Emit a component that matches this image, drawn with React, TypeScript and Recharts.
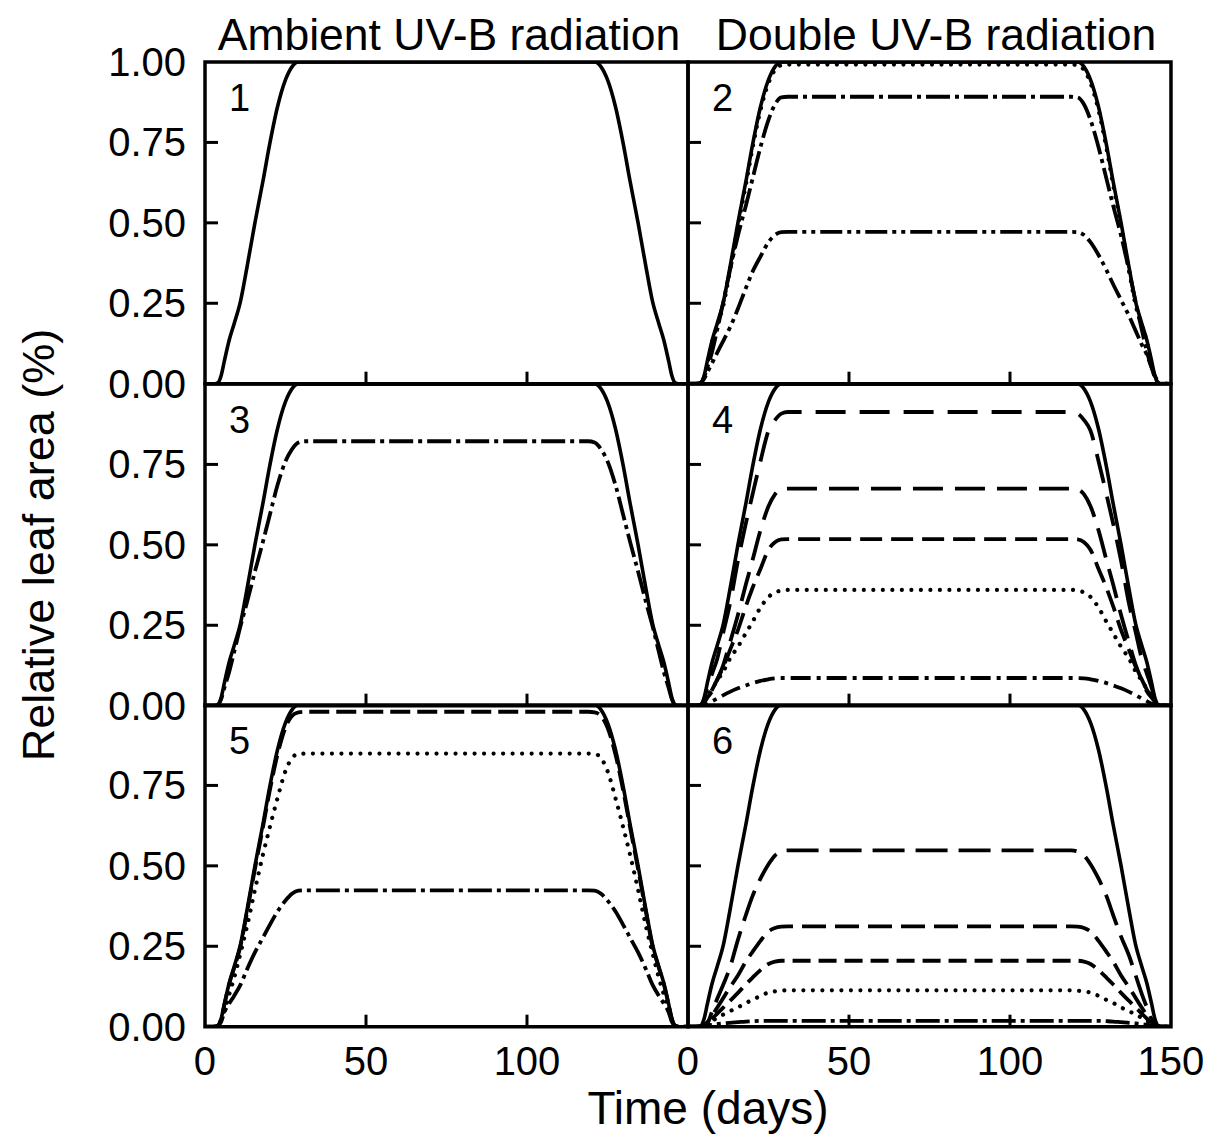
import React from 'react';
import { LineChart, Line, XAxis, YAxis, ReferenceArea } from 'recharts';

const FONT = '"Liberation Sans", Arial, Helvetica, sans-serif';

// ---- data (time in days, relative leaf area) ----
const days = [0, 3, 4, 5, 6, 7.5, 9, 11, 13, 15.5, 18, 20, 22.5, 25, 27, 29, 31, 75, 119, 121, 123, 125, 127.5, 130, 132, 134.5, 137, 139, 141, 142.5, 144, 145, 146, 147, 150];

const solid = [0, 0, 0.003, 0.025, 0.07, 0.135, 0.185, 0.255, 0.36, 0.5, 0.63, 0.74, 0.86, 0.945, 0.985, 1, 1, 1, 1, 1, 0.985, 0.945, 0.86, 0.74, 0.63, 0.5, 0.36, 0.255, 0.185, 0.135, 0.07, 0.025, 0.003, 0, 0];

const p2Dotted = [0, 0, 0.002, 0.02, 0.062, 0.13, 0.18, 0.245, 0.35, 0.49, 0.62, 0.73, 0.85, 0.935, 0.975, 0.99, 0.992, 0.992, 0.992, 0.99, 0.975, 0.935, 0.85, 0.73, 0.62, 0.49, 0.35, 0.245, 0.18, 0.13, 0.062, 0.02, 0.002, 0, 0];
const p2DashDot = [0, 0, 0.003, 0.02, 0.05, 0.1, 0.165, 0.255, 0.351, 0.46, 0.555, 0.635, 0.735, 0.82, 0.868, 0.89, 0.892, 0.892, 0.892, 0.89, 0.868, 0.82, 0.735, 0.635, 0.555, 0.46, 0.351, 0.255, 0.165, 0.1, 0.05, 0.02, 0.003, 0, 0];
const p2DashDotDot = [0, 0, 0.003, 0.015, 0.035, 0.065, 0.095, 0.134, 0.174, 0.233, 0.298, 0.347, 0.395, 0.44, 0.462, 0.471, 0.472, 0.472, 0.472, 0.471, 0.462, 0.44, 0.4, 0.352, 0.31, 0.26, 0.21, 0.165, 0.12, 0.09, 0.05, 0.025, 0.005, 0, 0];

const p3DashDot = [0, 0, 0.003, 0.02, 0.055, 0.105, 0.165, 0.247, 0.32, 0.417, 0.51, 0.588, 0.685, 0.76, 0.797, 0.818, 0.822, 0.822, 0.822, 0.818, 0.797, 0.76, 0.685, 0.588, 0.51, 0.417, 0.32, 0.247, 0.165, 0.105, 0.055, 0.02, 0.003, 0, 0];

const p4LongDash = [0, 0, 0.003, 0.02, 0.055, 0.1, 0.143, 0.23, 0.315, 0.45, 0.568, 0.655, 0.76, 0.855, 0.888, 0.908, 0.913, 0.913, 0.913, 0.908, 0.888, 0.855, 0.76, 0.655, 0.568, 0.45, 0.315, 0.23, 0.143, 0.1, 0.055, 0.02, 0.003, 0, 0];
const p4Dash = [0, 0, 0.002, 0.012, 0.025, 0.045, 0.078, 0.128, 0.195, 0.282, 0.378, 0.451, 0.545, 0.62, 0.657, 0.673, 0.675, 0.675, 0.675, 0.673, 0.657, 0.62, 0.545, 0.451, 0.378, 0.282, 0.195, 0.128, 0.078, 0.045, 0.025, 0.012, 0.002, 0, 0];
const p4MedDash = [0, 0, 0.002, 0.01, 0.025, 0.05, 0.08, 0.122, 0.172, 0.235, 0.31, 0.365, 0.425, 0.485, 0.508, 0.517, 0.518, 0.518, 0.518, 0.517, 0.508, 0.485, 0.425, 0.365, 0.31, 0.235, 0.172, 0.122, 0.08, 0.05, 0.025, 0.01, 0.002, 0, 0];
const p4Dotted = [0, 0, 0.002, 0.015, 0.03, 0.052, 0.077, 0.107, 0.146, 0.183, 0.226, 0.26, 0.305, 0.338, 0.352, 0.358, 0.36, 0.36, 0.36, 0.358, 0.352, 0.338, 0.305, 0.26, 0.226, 0.183, 0.146, 0.107, 0.077, 0.052, 0.03, 0.015, 0.002, 0, 0];
const p4DashDot = [0, 0, 0.001, 0.003, 0.006, 0.014, 0.022, 0.033, 0.043, 0.054, 0.063, 0.07, 0.077, 0.082, 0.085, 0.086, 0.086, 0.086, 0.086, 0.086, 0.085, 0.082, 0.077, 0.07, 0.063, 0.054, 0.043, 0.033, 0.022, 0.014, 0.006, 0.003, 0.001, 0, 0];

const p5Dash = [0, 0, 0.003, 0.024, 0.068, 0.132, 0.181, 0.25, 0.353, 0.49, 0.62, 0.728, 0.845, 0.93, 0.966, 0.977, 0.979, 0.979, 0.979, 0.977, 0.966, 0.93, 0.845, 0.728, 0.62, 0.49, 0.353, 0.25, 0.181, 0.132, 0.068, 0.024, 0.003, 0, 0];
const p5Dotted = [0, 0, 0.003, 0.02, 0.05, 0.1, 0.15, 0.228, 0.31, 0.425, 0.535, 0.615, 0.71, 0.795, 0.835, 0.848, 0.849, 0.849, 0.849, 0.848, 0.835, 0.795, 0.71, 0.615, 0.535, 0.425, 0.31, 0.228, 0.15, 0.1, 0.05, 0.02, 0.003, 0, 0];
const p5DashDot = [0, 0, 0.003, 0.015, 0.045, 0.072, 0.095, 0.13, 0.177, 0.231, 0.277, 0.314, 0.358, 0.392, 0.413, 0.423, 0.424, 0.424, 0.424, 0.423, 0.413, 0.392, 0.358, 0.314, 0.277, 0.231, 0.177, 0.13, 0.095, 0.072, 0.045, 0.015, 0.003, 0, 0];

const p6LongDash = [0, 0, 0.001, 0.003, 0.01, 0.048, 0.085, 0.132, 0.183, 0.27, 0.348, 0.405, 0.46, 0.505, 0.532, 0.545, 0.548, 0.548, 0.548, 0.545, 0.532, 0.505, 0.46, 0.405, 0.348, 0.28, 0.22, 0.16, 0.1, 0.06, 0.022, 0.005, 0.001, 0, 0];
const p6Dash = [0, 0, 0.001, 0.004, 0.014, 0.035, 0.058, 0.09, 0.122, 0.159, 0.203, 0.232, 0.267, 0.296, 0.307, 0.311, 0.312, 0.312, 0.312, 0.311, 0.307, 0.296, 0.267, 0.232, 0.203, 0.159, 0.122, 0.09, 0.058, 0.035, 0.014, 0.004, 0.001, 0, 0];
const p6ShortDash = [0, 0, 0.001, 0.004, 0.01, 0.025, 0.04, 0.06, 0.08, 0.105, 0.132, 0.152, 0.176, 0.195, 0.202, 0.205, 0.205, 0.205, 0.205, 0.205, 0.202, 0.195, 0.176, 0.152, 0.132, 0.105, 0.08, 0.06, 0.04, 0.025, 0.01, 0.004, 0.001, 0, 0];
const p6Dotted = [0, 0, 0.001, 0.004, 0.009, 0.018, 0.027, 0.038, 0.048, 0.06, 0.074, 0.083, 0.096, 0.106, 0.11, 0.112, 0.113, 0.113, 0.113, 0.112, 0.11, 0.106, 0.096, 0.083, 0.074, 0.06, 0.048, 0.038, 0.027, 0.018, 0.009, 0.004, 0.001, 0, 0];
const p6DashDot = [0, 0, 0.001, 0.002, 0.004, 0.006, 0.008, 0.01, 0.012, 0.014, 0.016, 0.017, 0.018, 0.018, 0.018, 0.018, 0.018, 0.018, 0.018, 0.018, 0.018, 0.018, 0.018, 0.017, 0.016, 0.014, 0.012, 0.01, 0.008, 0.006, 0.004, 0.002, 0.001, 0, 0];

const xTicks = [0, 50, 100, 150];
const yTicksTop = [0, 0.25, 0.5, 0.75, 1];
const yTicksLower = [0, 0.25, 0.5, 0.75];
const columnTitles = ['Ambient UV-B radiation', 'Double UV-B radiation'];
const xTitle = 'Time (days)';
const yTitle = 'Relative leaf area (%)';

// ---- styles ----
type Style = { dash?: string; width: number; cap: 'round' | 'butt' };
const SOLID: Style = { width: 3.6, cap: 'butt' };
const DOTTED: Style = { dash: '0.01 9.5', width: 4.2, cap: 'round' };
const DASHDOT: Style = { dash: '24 5 4 5', width: 3.8, cap: 'butt' };
const DASHDOTDOT: Style = { dash: '22 5 4 5 4 5', width: 3.8, cap: 'butt' };
const LONGDASH: Style = { dash: '32 11', width: 3.8, cap: 'butt' };
const MEDDASH: Style = { dash: '24 9', width: 3.8, cap: 'butt' };
const SHORTDASH: Style = { dash: '18 8', width: 3.8, cap: 'butt' };
const DASH5: Style = { dash: '20 7', width: 3.8, cap: 'butt' };

type Series = { key: string; values: number[]; style: Style };
type PanelDef = { r: number; c: number; num: string; series: Series[] };

const panels: PanelDef[] = [
  { r: 0, c: 0, num: '1', series: [{ key: 'solid', values: solid, style: SOLID }] },
  {
    r: 0, c: 1, num: '2', series: [
      { key: 'a', values: p2Dotted, style: DOTTED },
      { key: 'b', values: p2DashDot, style: DASHDOT },
      { key: 'c', values: p2DashDotDot, style: DASHDOTDOT },
      { key: 'solid', values: solid, style: SOLID },
    ],
  },
  {
    r: 1, c: 0, num: '3', series: [
      { key: 'a', values: p3DashDot, style: DASHDOT },
      { key: 'solid', values: solid, style: SOLID },
    ],
  },
  {
    r: 1, c: 1, num: '4', series: [
      { key: 'a', values: p4LongDash, style: { dash: '30 14', width: 3.8, cap: 'butt' } },
      { key: 'b', values: p4Dash, style: { dash: '30 12', width: 3.8, cap: 'butt' } },
      { key: 'c', values: p4MedDash, style: { dash: '22 9', width: 3.8, cap: 'butt' } },
      { key: 'd', values: p4Dotted, style: DOTTED },
      { key: 'e', values: p4DashDot, style: { dash: '20 6 4 6', width: 3.8, cap: 'butt' } },
      { key: 'solid', values: solid, style: SOLID },
    ],
  },
  {
    r: 2, c: 0, num: '5', series: [
      { key: 'a', values: p5Dash, style: DASH5 },
      { key: 'b', values: p5Dotted, style: DOTTED },
      { key: 'c', values: p5DashDot, style: DASHDOT },
      { key: 'solid', values: solid, style: SOLID },
    ],
  },
  {
    r: 2, c: 1, num: '6', series: [
      { key: 'a', values: p6LongDash, style: LONGDASH },
      { key: 'b', values: p6Dash, style: MEDDASH },
      { key: 'c', values: p6ShortDash, style: SHORTDASH },
      { key: 'd', values: p6Dotted, style: DOTTED },
      { key: 'e', values: p6DashDot, style: DASHDOT },
      { key: 'solid', values: solid, style: SOLID },
    ],
  },
];

// ---- layout ----
const PANEL_LEFT = [205, 688];
const PANEL_TOP = [62, 383.7, 705.3];
const PW = 483;
const PH = 321.7;
const M = { top: 34, right: 34, bottom: 20, left: 20 };
const X_AXIS_H = 60;
const Y_AXIS_W = 110;

function Panel({ def }: { def: PanelDef }) {
  const { r, c, series } = def;
  const data = days.map((d, i) => {
    const row: Record<string, number> = { day: d };
    series.forEach((s) => { row[s.key] = s.values[i]; });
    return row;
  });
  const yTicks = r === 0 ? yTicksTop : yTicksLower;
  const showX = r === 2;
  const showY = c === 0;

  const renderXTick = (p: any) => {
    const { x, y, payload } = p;
    const v = payload.value;
    const inner = v !== 0 && v !== 150;
    const label = showX && (c === 1 || v !== 150);
    return (
      <g>
        {inner && <line x1={x} x2={x} y1={y} y2={y - 12} stroke="#000" strokeWidth={3} />}
        {label && (
          <text x={x} y={y + 48} textAnchor="middle" fontSize={40} fontFamily={FONT} fill="#000">
            {v}
          </text>
        )}
      </g>
    );
  };

  const renderYTick = (p: any) => {
    const { x, y, payload } = p;
    const v = payload.value;
    const inner = v !== 0 && v !== 1;
    return (
      <g>
        {inner && <line x1={x} x2={x + 13} y1={y} y2={y} stroke="#000" strokeWidth={3} />}
        {showY && (
          <text x={x - 19} y={y} dy={14} textAnchor="end" fontSize={40} fontFamily={FONT} fill="#000">
            {v.toFixed(2)}
          </text>
        )}
      </g>
    );
  };

  return (
    <div
      style={{
        position: 'absolute',
        left: PANEL_LEFT[c] - M.left - Y_AXIS_W,
        top: PANEL_TOP[r] - M.top,
      }}
    >
      <LineChart
        width={PW + M.left + M.right + Y_AXIS_W}
        height={PH + M.top + M.bottom + X_AXIS_H}
        data={data}
        margin={M}
      >
        <XAxis
          dataKey="day"
          type="number"
          domain={[0, 150]}
          ticks={xTicks}
          interval={0}
          height={X_AXIS_H}
          tickSize={0}
          tickMargin={0}
          axisLine={false}
          tickLine={false}
          tick={renderXTick}
          allowDataOverflow
        />
        <YAxis
          type="number"
          domain={[0, 1]}
          ticks={yTicks}
          interval={0}
          width={Y_AXIS_W}
          tickSize={0}
          tickMargin={0}
          axisLine={false}
          tickLine={false}
          tick={renderYTick}
          allowDataOverflow
        />
        {series.map((s) => (
          <Line
            key={s.key}
            dataKey={s.key}
            type="monotone"
            stroke="#000"
            strokeWidth={s.style.width}
            strokeDasharray={s.style.dash}
            strokeLinecap={s.style.cap}
            dot={false}
            activeDot={false}
            isAnimationActive={false}
          />
        ))}
        <ReferenceArea x1={0} x2={150} y1={0} y2={1} fill="none" fillOpacity={0} stroke="#000" strokeWidth={3.5} ifOverflow="visible" />
      </LineChart>
    </div>
  );
}

export default function App() {
  return (
    <div style={{ position: 'absolute', left: 0, top: 0, width: 1208, height: 1137, background: '#fff', overflow: 'hidden' }}>
      {panels.map((p) => (
        <Panel key={p.num} def={p} />
      ))}
      <svg width={1208} height={1137} style={{ position: 'absolute', left: 0, top: 0, pointerEvents: 'none' }}>
        <text x={449} y={50} textAnchor="middle" fontSize={44.5} fontFamily={FONT} fill="#000">
          {columnTitles[0]}
        </text>
        <text x={936} y={50} textAnchor="middle" fontSize={44.5} fontFamily={FONT} fill="#000">
          {columnTitles[1]}
        </text>
        <text x={708} y={1124} textAnchor="middle" fontSize={46} fontFamily={FONT} fill="#000">
          {xTitle}
        </text>
        <text transform="translate(54,545) rotate(-90)" textAnchor="middle" fontSize={45} fontFamily={FONT} fill="#000">
          {yTitle}
        </text>
        {panels.map((p) => (
          <text key={p.num} x={PANEL_LEFT[p.c] + 24} y={PANEL_TOP[p.r] + 49} fontSize={38} fontFamily={FONT} fill="#000">
            {p.num}
          </text>
        ))}
      </svg>
    </div>
  );
}
